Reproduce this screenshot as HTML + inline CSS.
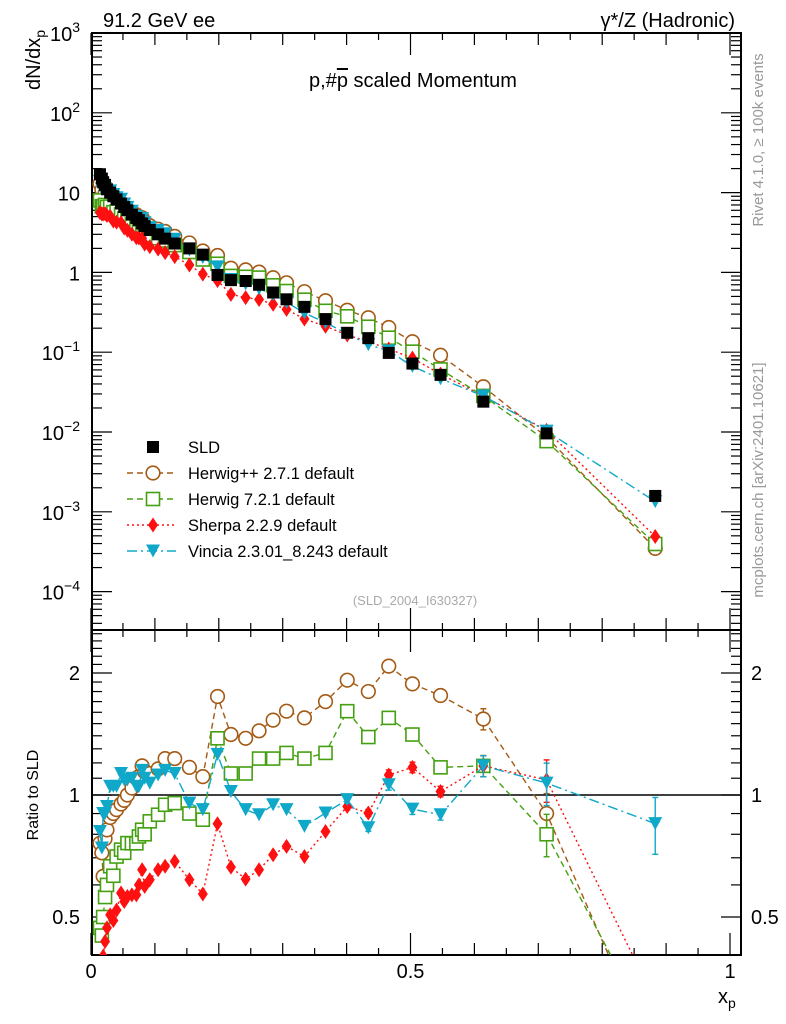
<!DOCTYPE html>
<html><head><meta charset="utf-8">
<style>
html,body{margin:0;padding:0;background:#fff;width:786px;height:1024px;overflow:hidden;}
svg{display:block;font-family:"Liberation Sans",Arial,sans-serif;}
</style></head>
<body>
<svg id="chart" width="786" height="1024" viewBox="0 0 786 1024" xmlns="http://www.w3.org/2000/svg">
<defs>
<clipPath id="clipTop"><rect x="92" y="33" width="649" height="597"/></clipPath>
<clipPath id="clipBot"><rect x="92" y="630" width="649" height="325"/></clipPath>
</defs>
<text x="103" y="27" font-size="20">91.2 GeV ee</text>
<text x="735" y="27" font-size="20" text-anchor="end">γ*/Z (Hadronic)</text>
<text x="413" y="87" font-size="20" text-anchor="middle">p,#<tspan text-decoration="overline">p</tspan> scaled Momentum</text>
<text transform="translate(763,140) rotate(-90)" font-size="15" fill="#999" text-anchor="middle">Rivet 4.1.0, ≥ 100k events</text>
<text transform="translate(763,480) rotate(-90)" font-size="15" fill="#999" text-anchor="middle">mcplots.cern.ch [arXiv:2401.10621]</text>
<text x="415" y="605" font-size="13" fill="#aaa" text-anchor="middle">(SLD_2004_I630327)</text>
<text transform="translate(40,90) rotate(-90)" font-size="20">dN/dx<tspan font-size="14" dy="5">p</tspan></text>
<text transform="translate(38,795) rotate(-90)" font-size="16" text-anchor="middle">Ratio to SLD</text>
<text x="718" y="1003" font-size="20">x<tspan font-size="14" dy="5">p</tspan></text>
<g id="axes"></g>
<g id="legend"></g>
<g id="marks"></g>
</svg>
<script>
const xs=[0.014,0.017,0.019,0.022,0.025,0.030,0.035,0.040,0.047,0.052,0.057,0.064,0.071,0.075,0.080,0.084,0.092,0.105,0.116,0.131,0.154,0.175,0.198,0.219,0.242,0.263,0.285,0.306,0.334,0.367,0.401,0.434,0.466,0.503,0.547,0.614,0.713,0.883];
const sld=[17,15,13.5,12.5,11,10,9,8.2,7.3,6.6,6.0,5.3,4.8,4.5,4.1,3.8,3.4,3.0,2.65,2.3,2.0,1.67,0.93,0.80,0.78,0.70,0.56,0.46,0.37,0.26,0.175,0.15,0.098,0.072,0.052,0.024,0.0096,0.00158];
const ratioHpp=[0.76,0.72,0.63,0.78,0.82,0.88,0.90,0.92,0.95,0.97,1.0,1.04,1.10,1.11,1.18,1.14,1.13,1.16,1.23,1.23,1.17,1.11,1.75,1.41,1.38,1.44,1.53,1.61,1.55,1.70,1.92,1.80,2.08,1.88,1.76,1.54,0.90,0.22];
const ratioH7=[0.47,0.45,0.50,0.56,0.60,0.667,0.632,0.705,0.733,0.72,0.761,0.76,0.76,0.79,0.821,0.80,0.861,0.894,0.946,0.955,0.90,0.869,1.38,1.13,1.13,1.23,1.23,1.27,1.23,1.27,1.61,1.39,1.55,1.41,1.17,1.18,0.80,0.25];
const ratioSherpa=[0.33,0.36,0.40,0.435,0.47,0.506,0.49,0.52,0.573,0.546,0.562,0.567,0.567,0.60,0.654,0.595,0.618,0.654,0.667,0.686,0.618,0.57,0.849,0.664,0.62,0.654,0.712,0.747,0.705,0.813,0.937,0.903,1.12,1.17,1.02,1.18,1.09,0.31];
const ratioVincia=[0.813,0.74,0.90,0.90,0.937,1.05,1.05,1.05,1.13,1.09,1.09,1.10,1.05,1.05,1.15,1.10,1.07,1.12,1.15,1.13,0.955,0.92,1.26,1.02,0.92,0.894,0.946,0.92,0.837,0.903,0.974,0.83,1.06,0.923,0.894,1.18,1.07,0.85];
const relErr=[0,0,0,0,0,0,0,0,0,0,0,0,0,0,0,0,0,0,0,0,0,0,0,0,0,0,0,0,0,0.01,0.02,0.02,0.03,0.03,0.03,0.06,0.12,0.16];
</script>
<script>
const NS="http://www.w3.org/2000/svg";
const X0=92,X1=741,T0=33,T1=630,B0=630,B1=955;
const xPix=x=>91+639*x;
const yTop=v=>33+79.8*(3-Math.log10(v));
const yRat=r=>795-122*Math.log2(r);
function mk(tag,attrs,parent){const e=document.createElementNS(NS,tag);for(const k in attrs)e.setAttribute(k,attrs[k]);parent.appendChild(e);return e;}
const axes=document.getElementById('axes');
const marks=document.getElementById('marks');
let f1=mk('rect',{x:X0,y:T0,width:X1-X0,height:T1-T0,fill:'none',stroke:'#000','stroke-width':2},axes);


let f2=mk('rect',{x:X0,y:B0,width:X1-X0,height:B1-B0,fill:'none',stroke:'#000','stroke-width':2},axes);


for(let i=0;i<=20;i++){const x=xPix(i*0.05);const L=(i%10==0)?22:(i%2==0?12:7);
 for(const [yb,dir] of [[T1,-1],[T0,1],[B1,-1],[B0,1]]){mk('line',{x1:x,x2:x,y1:yb,y2:yb+dir*L,stroke:'#000','stroke-width':1.2},axes);}}
const xl=[["0",0],["0.5",0.5],["1",1]];
for(const [t,v] of xl){const e=mk('text',{x:xPix(v),y:978,'font-size':20,'text-anchor':'middle'},axes);e.textContent=t;

}
const exps=[3,2,1,0,-1,-2,-3,-4];
for(let p=-5;p<=3;p++){for(let m=1;m<=9;m++){const v=m*Math.pow(10,p);const y=yTop(v);if(y<T0-0.5||y>T1)continue;const L=m==1?20:10;
 mk('line',{x1:X0,x2:X0+L,y1:y,y2:y,stroke:'#000','stroke-width':1.2},axes);mk('line',{x1:X1,x2:X1-L,y1:y,y2:y,stroke:'#000','stroke-width':1.2},axes);}}
for(const p of exps){const y=yTop(Math.pow(10,p));const e=mk('text',{x:80,y:y+8,'font-size':20,'text-anchor':'end'},axes);
 
 
 if(p==0)e.textContent='1';else if(p==1)e.textContent='10';else{const t1=document.createElementNS(NS,'tspan');t1.textContent='10';e.appendChild(t1);const t2=document.createElementNS(NS,'tspan');t2.setAttribute('font-size','14');t2.setAttribute('dy','-9');t2.textContent=(p<0?'−':'')+Math.abs(p);e.appendChild(t2);}}
const rt=[0.4,0.5,0.6,0.7,0.8,0.9,1,1.1,1.2,1.3,1.4,1.5,1.6,1.7,1.8,1.9,2,2.1,2.2,2.3,2.4,2.5];
for(const r of rt){const y=yRat(r);if(y<B0||y>B1)continue;const L=(r==0.5||r==1||r==2)?20:10;
 mk('line',{x1:X0,x2:X0+L,y1:y,y2:y,stroke:'#000','stroke-width':1.2},axes);mk('line',{x1:X1,x2:X1-L,y1:y,y2:y,stroke:'#000','stroke-width':1.2},axes);}
for(const [t,r] of [["0.5",0.5],["1",1],["2",2]]){const y=yRat(r);
 for(const [x,a] of [[80,'end'],[751,'start']]){const e=mk('text',{x:x,y:y+7,'font-size':20,'text-anchor':a},axes);e.textContent=t;
 
 }}
let one=mk('line',{x1:X0,x2:X1,y1:yRat(1),y2:yRat(1),stroke:'#000','stroke-width':1.5},axes);



const series=[
 {name:'herwigpp',ratio:ratioHpp,color:'#a45a14',dash:'6,4',marker:'circle'},
 {name:'herwig7',ratio:ratioH7,color:'#44a010',dash:'6,4',marker:'square'},
 {name:'sherpa',ratio:ratioSherpa,color:'#ff1010',dash:'2,3',marker:'diamond'},
 {name:'vincia',ratio:ratioVincia,color:'#10a8c8',dash:'10,4,2,4',marker:'tri'}];
function marker(g,type,x,y,c){let e;
 if(type=='circle')e=mk('circle',{cx:x,cy:y,r:6.8,fill:'#fff',stroke:c,'stroke-width':1.6},g);
 else if(type=='square')e=mk('rect',{x:x-6.5,y:y-6.5,width:13,height:13,fill:'#fff',stroke:c,'stroke-width':1.6},g);
 else if(type=='diamond')e=mk('path',{d:`M${x},${y-7.5}L${x+5},${y}L${x},${y+7.5}L${x-5},${y}Z`,fill:c},g);
 else if(type=='tri')e=mk('path',{d:`M${x-7},${y-6.5}L${x+7},${y-6.5}L${x},${y+6.5}Z`,fill:c},g);
 else e=mk('rect',{x:x-6,y:y-6,width:12,height:12,fill:c},g);
 return e;}
const gd=mk('g',{'clip-path':'url(#clipTop)'},marks);


for(const s of series){
 const gt=mk('g',{'clip-path':'url(#clipTop)'},marks);
 
 
 const gr=mk('g',{'clip-path':'url(#clipBot)'},marks);
 
 
 let pt='',pr='';
 xs.forEach((x,i)=>{const v=sld[i]*s.ratio[i];pt+=(i?'L':'M')+xPix(x)+','+yTop(v);pr+=(i?'L':'M')+xPix(x)+','+yRat(s.ratio[i]);});
 mk('path',{d:pt,fill:'none',stroke:s.color,'stroke-width':1.4,'stroke-dasharray':s.dash},gt);
 mk('path',{d:pr,fill:'none',stroke:s.color,'stroke-width':1.4,'stroke-dasharray':s.dash},gr);
 xs.forEach((x,i)=>{const r=s.ratio[i],e=relErr[i];
  if(e>0){const ya=yRat(r*(1+e)),yb=yRat(r*(1-e)),xp=xPix(x);
   mk('line',{x1:xp,x2:xp,y1:ya,y2:yb,stroke:s.color,'stroke-width':1.4},gr);
   mk('line',{x1:xp-3,x2:xp+3,y1:ya,y2:ya,stroke:s.color,'stroke-width':1.4},gr);
   mk('line',{x1:xp-3,x2:xp+3,y1:yb,y2:yb,stroke:s.color,'stroke-width':1.4},gr);}
  const m1=marker(gt,s.marker,xPix(x),yTop(sld[i]*r),s.color);
  
  
  const m2=marker(gr,s.marker,xPix(x),yRat(r),s.color);
  
  });
}
xs.forEach((x,i)=>{const m=marker(gd,'data',xPix(x),yTop(sld[i]),'#000');
 
 });
marks.appendChild(gd);
const lg=document.getElementById('legend');
const entries=[['SLD',null],['Herwig++ 2.7.1 default',series[0]],['Herwig 7.2.1 default',series[1]],['Sherpa 2.2.9 default',series[2]],['Vincia 2.3.01_8.243 default',series[3]]];
entries.forEach(([t,s],k)=>{const y=447+26*k;const g=mk('g',{},lg);
 
 
 if(s){mk('line',{x1:127,x2:176,y1:y,y2:y,stroke:s.color,'stroke-width':1.4,'stroke-dasharray':s.dash},g);marker(g,s.marker,153,y,s.color);}
 else marker(g,'data',153,y,'#000');
 const e=mk('text',{x:188,y:y+6,'font-size':16.5},g);e.textContent=t;});
</script>
</body></html>
